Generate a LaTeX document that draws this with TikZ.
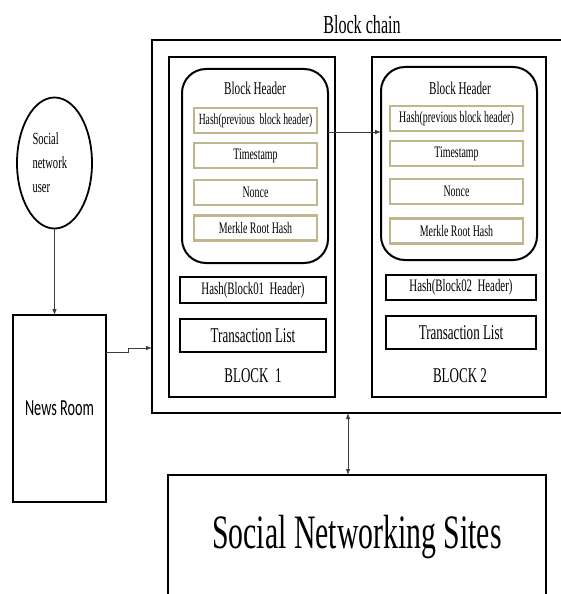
\documentclass[tikz,border=0pt]{standalone}
\usepackage{fontspec}
\setmainfont{Liberation Serif}[FakeStretch=0.62]
\newfontfamily\newsfont{Carlito}[FakeStretch=0.62]
\usetikzlibrary{arrows.meta,calc,shapes.geometric}
\definecolor{fieldtan}{RGB}{192,182,142}
\definecolor{linkgray}{RGB}{60,60,60}
\newcommand{\setfs}[2]{\fontsize{#1}{#2}\selectfont}

\tikzset{
  every node/.style={inner sep=0pt, outer sep=0pt},
  frame/.style={draw, rectangle, line width=2.1pt},
  thinframe/.style={draw, rectangle, line width=1.5pt},
  hdrbox/.style={draw, rectangle, rounded corners=24pt, line width=2pt},
  field/.style={draw=fieldtan, rectangle, line width=2.4pt, minimum height=25pt},
  slot/.style={draw, rectangle, line width=1.8pt},
  link/.style={draw=linkgray, line width=0.8pt},
  tip/.style={-{Latex[length=6pt,width=4.5pt]}},
  twotip/.style={{Latex[length=6pt,width=4.5pt]}-{Latex[length=6pt,width=4.5pt]}},
}

\begin{document}
\begin{tikzpicture}[x=1pt,y=-1pt]
\useasboundingbox (0,0) rectangle (560,594);

% blockchain container and its title
\node[frame, minimum width=413pt, minimum height=373pt] (chain) at (358.5,226.5) {};
\node[font=\setfs{26}{30}] (title) at (362,25) {Block chain};

% block 1
\node[frame, minimum width=166pt, minimum height=340pt] (b1) at (252,227) {};
\node[hdrbox, minimum width=146pt, minimum height=194pt] (h1) at (255,166) {};
\node[font=\setfs{18}{20}] (h1t) at (255,88) {Block Header};
\node[field, minimum width=123pt, font=\setfs{15.5}{18}] (h1a) at (255.5,120.5) {Hash(previous\ \ block header)};
\node[field, minimum width=123pt, font=\setfs{16}{18}] (h1b) at (255.5,155.5) {Timestamp};
\node[field, minimum width=123pt, font=\setfs{16}{18}] (h1c) at (255.5,192.5) {Nonce};
\node[field, minimum width=123pt, font=\setfs{16}{18}] (h1d) at (255.5,228) {Merkle Root Hash};
\node[slot, minimum width=146pt, minimum height=26pt, font=\setfs{17.5}{20}] (k1) at (253,290) {Hash(Block01\ \ Header)};
\node[slot, minimum width=146pt, minimum height=33pt, font=\setfs{21}{24}] (t1) at (253,335.5) {Transaction List};
\node[font=\setfs{21}{24}] (l1) at (253,376) {BLOCK\ \ 1};

% block 2
\node[frame, minimum width=174pt, minimum height=340pt] (b2) at (459,227) {};
\node[hdrbox, minimum width=156pt, minimum height=193pt] (h2) at (459,163.5) {};
\node[font=\setfs{18}{20}] (h2t) at (460,88) {Block Header};
\node[field, minimum width=133pt, font=\setfs{16}{18}] (h2a) at (456.5,118.5) {Hash(previous block header)};
\node[field, minimum width=133pt, font=\setfs{16}{18}] (h2b) at (456.5,153.5) {Timestamp};
\node[field, minimum width=133pt, font=\setfs{16}{18}] (h2c) at (456.5,191.5) {Nonce};
\node[field, minimum width=133pt, font=\setfs{16}{18}] (h2d) at (456.5,231) {Merkle Root Hash};
\node[slot, minimum width=150pt, minimum height=25pt, font=\setfs{17.5}{20}] (k2) at (461,287.5) {Hash(Block02\ \ Header)};
\node[slot, minimum width=150pt, minimum height=33pt, font=\setfs{21}{24}] (t2) at (461,332.5) {Transaction List};
\node[font=\setfs{21}{24}] (l2) at (460,376) {BLOCK 2};

% user and news room
\node[draw, ellipse, line width=1.8pt, minimum width=75pt, minimum height=131pt,
      text width=44pt, align=left, font=\setfs{17}{24}] (user) at (54.5,163) {Social\\network\\user};
\node[frame, minimum width=93pt, minimum height=187pt, font=\newsfont\setfs{23}{26}] (news) at (59.5,408.5) {News Room};

% social networking sites
\node[thinframe, minimum width=378pt, minimum height=124pt, font=\setfs{48}{52}] (sns) at (357,537) {Social Networking Sites};

% connectors
\draw[link, tip] (user.south) -- (user.south |- news.north);
\draw[link, tip] ($(news.north east)+(0,37)$) -- ++(22,0) -- ++(0,-4) coordinate (jog) -- (jog -| chain.west);
\draw[link, tip] ($(h1.east)+(0,-34)$) coordinate (hx) -- (hx -| h2.west);
\draw[link, twotip] ($(chain.south)+(-10.5,0)$) coordinate (dv) -- (dv |- sns.north);
\end{tikzpicture}
\end{document}
